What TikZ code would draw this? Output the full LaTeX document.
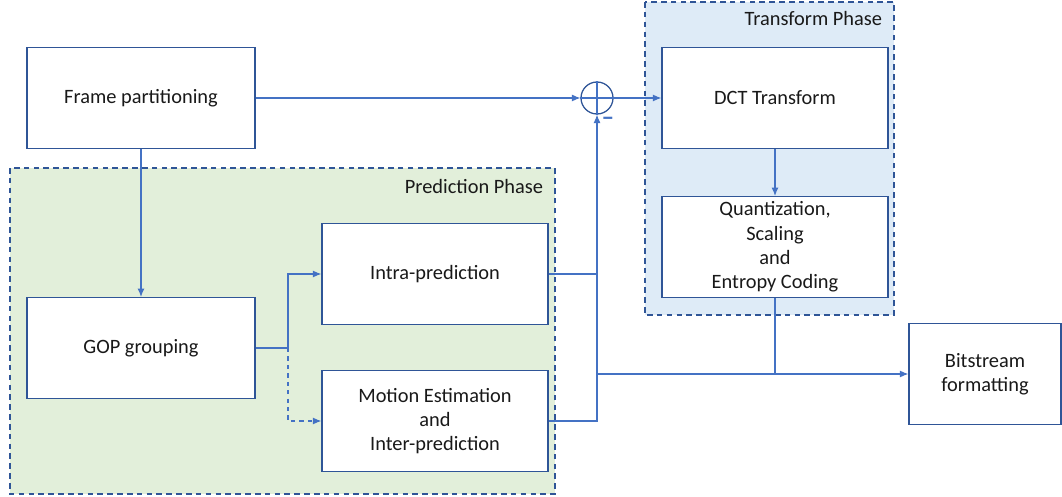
\documentclass[tikz,border=0pt]{standalone}
\usepackage{fontspec}
\setmainfont{Carlito}
\usetikzlibrary{arrows.meta}

\definecolor{lineblue}{RGB}{68,114,196}
\definecolor{boxblue}{RGB}{47,85,151}
\definecolor{predgreen}{RGB}{226,239,218}
\definecolor{transblue}{RGB}{222,235,247}

\tikzset{
  block/.style={draw=boxblue, line width=0.9pt, fill=white, minimum width=5.65cm,
    minimum height=2.52cm, align=center, inner sep=0pt, text=black!90,
    font=\fontsize{14.5}{17.3}\selectfont},
  phase/.style={draw=boxblue, dashed, dash pattern=on 4pt off 3pt, line width=0.9pt},
  phaselabel/.style={anchor=east, text=black!90, font=\fontsize{14.5}{17}\selectfont},
  flow/.style={draw=lineblue, line width=0.8pt, -{Latex[length=6pt,width=5pt]}},
  link/.style={draw=lineblue, line width=0.8pt},
}

\begin{document}
\begin{tikzpicture}[x=0.025cm, y=-0.025cm]
\useasboundingbox (0,0) rectangle (1062,497);

% phases
\draw[phase, fill=predgreen] (10,168) rectangle (555,494);
\node[phaselabel] (predlabel) at (548,186) {Prediction Phase};
\draw[phase, fill=transblue] (645,2) rectangle (894,315);
\node[phaselabel] (translabel) at (887,19) {Transform Phase};

% boxes
\node[block, minimum width=5.7cm] (frame) at (141,98) {Frame partitioning};
\node[block, minimum width=5.7cm] (gop) at (141,348) {GOP grouping};
\node[block] (intra) at (435,274) {Intra-prediction};
\node[block] (inter) at (435,421) {Motion Estimation\\and\\Inter-prediction};
\node[block] (dct) at (775,98) {DCT Transform};
\node[block] (quant) at (775,247) {Quantization,\\Scaling\\and\\Entropy Coding};
\node[block, minimum width=3.8cm] (bitstream) at (985,374) {Bitstream\\formatting};

% summing point
\node[circle, draw=boxblue, line width=0.9pt, minimum size=0.8cm, inner sep=0pt] (sum) at (597,98) {};
\draw[link] (sum.north) -- (sum.south);
\draw[link] (sum.west) -- (sum.east);
\node[text=lineblue, font=\bfseries\fontsize{18}{18}\selectfont] (minus) at (608,121) {--};

% connectors
\draw[flow] (frame.east) -- (sum.west);
\draw[flow] (sum.east) -- (dct.west);
\draw[flow] (frame.south) -- (gop.north);
\draw[flow] (dct.south) -- (quant.north);

\coordinate (split) at (288,348);
\draw[link] (gop.east) -- (split);
\draw[flow] (split) |- (intra.west);
\draw[flow, dashed] (split) |- (inter.west);

\draw[link] (intra.east) -- (intra.east -| sum.south);
\draw[flow] (inter.east) -| (sum.south);

\coordinate (join) at (sum |- bitstream.west);
\draw[flow] (join) -- (bitstream.west);
\draw[link] (quant.south) -- (quant.south |- bitstream.west);
\end{tikzpicture}
\end{document}
